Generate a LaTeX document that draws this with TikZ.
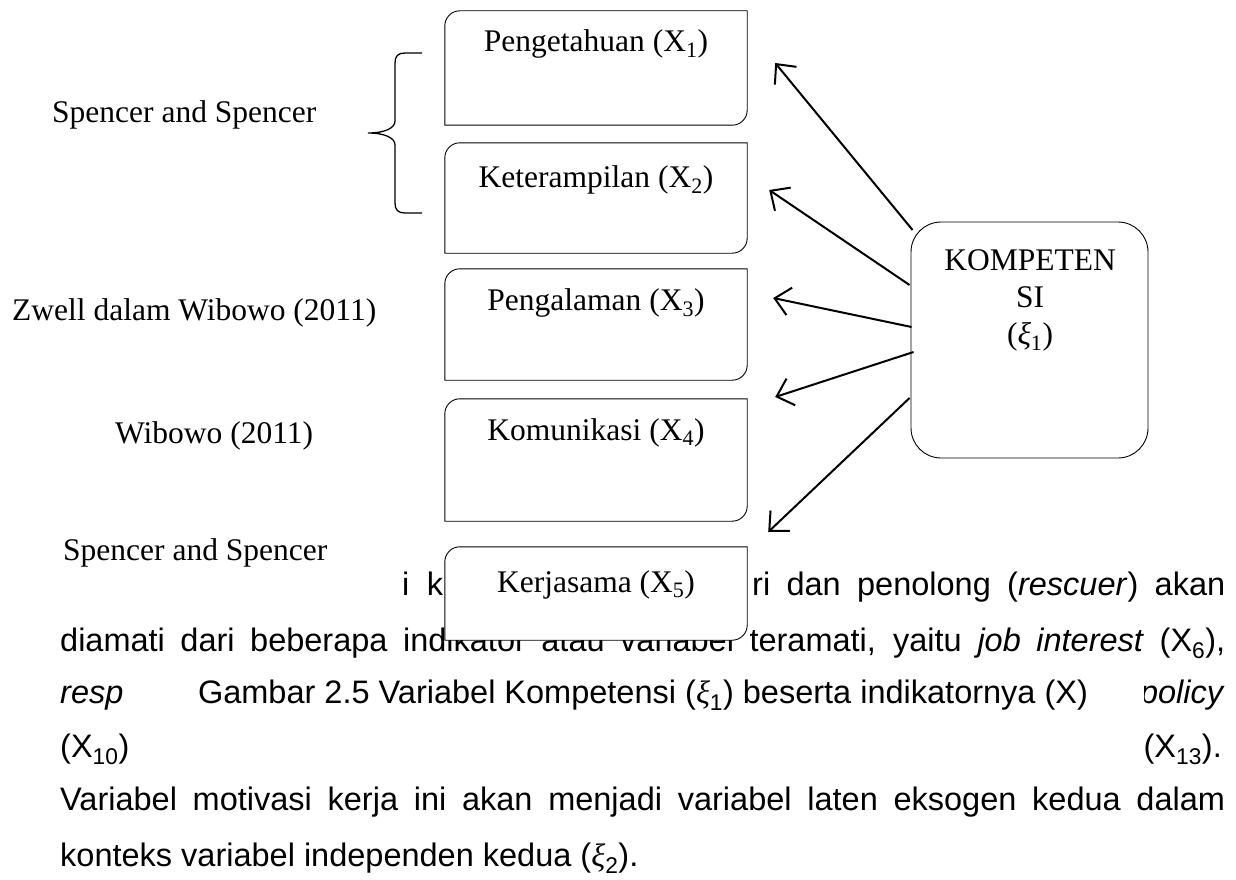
\documentclass[tikz,border=0pt]{standalone}
\usepackage{fontspec}
\setmainfont{Liberation Serif}
\setsansfont{Liberation Sans}
\usetikzlibrary{arrows.meta,calc}

% body text sits below the white box fills, box texts above them
\pgfdeclarelayer{paper}
\pgfdeclarelayer{boxfill}
\pgfsetlayers{paper,boxfill,main}

\newcommand\xivar[1]{{\rmfamily\itshape ξ}\textsubscript{#1}}

% frame with only the top-left and bottom-right corners rounded
\newcommand\indicatorframe[2]{%
  \filldraw[boxline] (#1.south west) -- ($(#1.north west)+(0,#2)$)
    .. controls ($(#1.north west)+(0,0.45*#2)$) and ($(#1.north west)+(0.45*#2,0)$)
    .. ($(#1.north west)+(#2,0)$)
    -- (#1.north east) -- ($(#1.south east)+(0,-#2)$)
    .. controls ($(#1.south east)+(0,-0.45*#2)$) and ($(#1.south east)+(-0.45*#2,0)$)
    .. ($(#1.south east)+(-#2,0)$) -- cycle;}

\tikzset{
  serif/.style={font=\fontsize{31.5}{37}\selectfont\rmfamily, inner sep=0pt},
  source/.style={serif, anchor=base west},
  indicator/.style={serif, anchor=base, minimum width=302pt},
  boxline/.style={draw=black, line width=0.9pt, fill=white},
  latent/.style={draw=black, line width=0.9pt, fill=white, rounded corners=30pt,
    minimum width=237pt, minimum height=236pt, inner sep=0pt},
  loading/.style={line width=2pt,
    -{Straight Barb[length=15pt,width=28pt,line width=2pt]}},
  bracket/.style={line width=1.3pt},
  prose/.style={font=\fontsize{32.5}{38}\selectfont\sffamily, inner sep=0pt,
    anchor=base west},
  caption/.style={font=\fontsize{32.5}{38}\selectfont\sffamily, inner sep=0pt,
    anchor=base, fill=white, minimum width=1014pt, text height=41pt, text depth=62pt},
}

\begin{document}
\begin{tikzpicture}[x=1pt,y=-1pt]
\useasboundingbox (0,0) rectangle (1236,880);

% page and its running text
\begin{pgfonlayer}{paper}
  \fill[white] (0,0) rectangle (1236,880);
  \node[prose] (p1a) at (402,595) {\makebox[41pt][s]{i k}};
  \node[prose] (p1b) at (752,595) {\makebox[473pt][s]{ri dan penolong (\textit{rescuer}) akan}};
  \node[prose] (p2) at (60,651) {\makebox[1165pt][s]{diamati dari beberapa indikator atau variabel teramati, yaitu \textit{job interest} (X\textsubscript{6}),}};
  \node[prose] (p3a) at (60,703) {\textit{resp}};
  \node[prose, anchor=base east] (p3b) at (1225,703) {\textit{policy}};
  \node[prose] (p4a) at (60,757) {(X\textsubscript{10})};
  \node[prose, anchor=base east] (p4b) at (1222,757) {(X\textsubscript{13}).};
  \node[prose] (p5) at (60,810) {\makebox[1165pt][s]{Variabel motivasi kerja ini akan menjadi variabel laten eksogen kedua dalam}};
  \node[prose] (p6) at (60,866) {konteks variabel independen kedua (\xivar{2}).};
\end{pgfonlayer}

% sources
\node[source] (s1) at (52,122) {Spencer and Spencer};
\node[source] (s3) at (12,320) {Zwell dalam Wibowo (2011)};
\node[source] (s4) at (115,443) {Wibowo (2011)};
\node[source] (s5) at (63,560) {Spencer and Spencer};

% indicators
\node[indicator, text height=41pt, text depth=73pt] (b1) at (596,52) {Pengetahuan (X\textsubscript{1})};
\node[indicator, text height=44pt, text depth=66pt] (b2) at (596,187) {Keterampilan (X\textsubscript{2})};
\node[indicator, text height=41pt, text depth=70pt] (b3) at (596,310) {Pengalaman (X\textsubscript{3})};
\node[indicator, text height=41pt, text depth=81pt] (b4) at (596,440) {Komunikasi (X\textsubscript{4})};
\node[indicator, text height=45pt, text depth=48pt] (b5) at (596,592) {Kerjasama (X\textsubscript{5})};

\begin{pgfonlayer}{boxfill}
  \indicatorframe{b1}{15}
  \indicatorframe{b2}{15}
  \indicatorframe{b3}{15}
  \indicatorframe{b4}{15}
  \indicatorframe{b5}{15}
  % caption text box, white, over the running text
  \node[caption] (cap) at (637,703) {\hspace*{12pt}Gambar 2.5 Variabel Kompetensi (\xivar{1}) beserta indikatornya (X)};
\end{pgfonlayer}

% brace grouping the first two indicators
\draw[bracket] (422,53) -- (405,53) .. controls (398,53) and (395,56) .. (395,63)
  -- (395,121) .. controls (395,128) and (385,133) .. (368,133)
  .. controls (385,133) and (395,138) .. (395,145)
  -- (395,203) .. controls (395,210) and (398,213) .. (405,213) -- (422,213);

% latent variable
\node[latent] (K) at (1029.5,340) {};
\node[serif, align=center, anchor=north] (Ktext) at (1030,249.5) {KOMPETEN\\SI\\(\xivar{1})};

% loadings
\draw[loading] ($(K.west)+(2,-110)$) -- ($(b1.east)+(28,-5)$);
\draw[loading] ($(K.west)+(-1,-55)$) -- ($(b2.east)+(22,-8)$);
\draw[loading] ($(K.west)+(1,-13)$) -- ($(b3.east)+(26,-26.5)$);
\draw[loading] ($(K.west)+(3,12)$) -- ($(b4.east)+(28,-63)$);
\draw[loading] ($(K.west)+(-1,58)$) -- ($(b5.east)+(21,-61.5)$);
\end{tikzpicture}
\end{document}
